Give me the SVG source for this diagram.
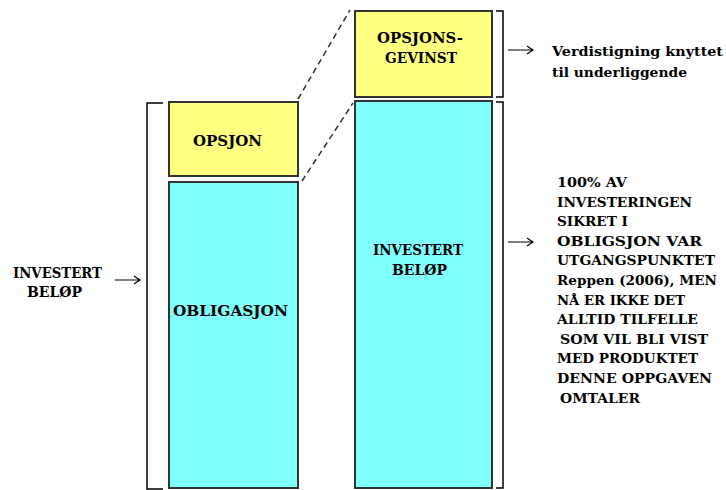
<svg xmlns="http://www.w3.org/2000/svg" width="726" height="490" viewBox="0 0 726 490">
<style>
.t{font-family:'DejaVu Serif','Liberation Serif',serif;font-weight:bold;font-size:14px;fill:#000}
.s{font-size:13px}
.y{fill:#ffff80;stroke:#333;stroke-width:2}
.c{fill:#80ffff;stroke:#333;stroke-width:2}
.br{fill:none;stroke:#000;stroke-width:1.5}
.ar{fill:none;stroke:#000;stroke-width:1.2}
.dash{fill:none;stroke:#333;stroke-width:1.5;stroke-dasharray:6,4}
</style>
<rect width="726" height="490" fill="#fff"/>
<g id="opsjon"><rect class="y" x="169" y="102" width="129" height="74"/><text class="t" x="193" y="146" textLength="69" lengthAdjust="spacingAndGlyphs">OPSJON</text></g>
<g id="obligasjon"><rect class="c" x="169" y="182" width="129" height="306"/><text class="t" x="173" y="316" textLength="115" lengthAdjust="spacingAndGlyphs">OBLIGASJON</text></g>
<g id="opsjonsgevinst"><rect class="y" x="355" y="11" width="137" height="86"/><text class="t" x="377" y="43" textLength="86" lengthAdjust="spacingAndGlyphs">OPSJONS-</text><text class="t" x="385" y="63" textLength="72" lengthAdjust="spacingAndGlyphs">GEVINST</text></g>
<g id="investert-belop"><rect class="c" x="355" y="101" width="137" height="387"/><text class="t" x="373" y="255" textLength="90" lengthAdjust="spacingAndGlyphs">INVESTERT</text><text class="t" x="392" y="275" textLength="55" lengthAdjust="spacingAndGlyphs">BELØP</text></g>
<g id="left-label"><text class="t" x="13" y="278" textLength="89" lengthAdjust="spacingAndGlyphs">INVESTERT</text><text class="t" x="27" y="297" textLength="55" lengthAdjust="spacingAndGlyphs">BELØP</text></g>
<g id="right-label-top"><text class="t s" x="552" y="56" textLength="171" lengthAdjust="spacingAndGlyphs">Verdistigning knyttet</text><text class="t s" x="552" y="77" textLength="135" lengthAdjust="spacingAndGlyphs">til underliggende</text></g>
<g id="right-label-bottom" class="t s">
<text class="t s" x="557" y="187" textLength="70" lengthAdjust="spacingAndGlyphs">100% AV</text>
<text class="t s" x="557" y="207" textLength="135" lengthAdjust="spacingAndGlyphs">INVESTERINGEN</text>
<text class="t s" x="557" y="226" textLength="71" lengthAdjust="spacingAndGlyphs">SIKRET I</text>
<text class="t s" x="557" y="246" textLength="145" lengthAdjust="spacingAndGlyphs">OBLIGSJON VAR</text>
<text class="t s" x="557" y="265" textLength="158" lengthAdjust="spacingAndGlyphs">UTGANGSPUNKTET</text>
<text class="t" x="557" y="285" font-size="12.5" style="font-size:12.5px" textLength="160" lengthAdjust="spacingAndGlyphs">Reppen (2006), MEN</text>
<text class="t s" x="557" y="305" textLength="128" lengthAdjust="spacingAndGlyphs">NÅ ER IKKE DET</text>
<text class="t s" x="557" y="324" textLength="141" lengthAdjust="spacingAndGlyphs">ALLTID TILFELLE</text>
<text class="t s" x="560" y="344" textLength="148" lengthAdjust="spacingAndGlyphs">SOM VIL BLI VIST</text>
<text class="t s" x="557" y="363" textLength="141" lengthAdjust="spacingAndGlyphs">MED PRODUKTET</text>
<text class="t s" x="557" y="383" textLength="155" lengthAdjust="spacingAndGlyphs">DENNE OPPGAVEN</text>
<text class="t s" x="560" y="403" textLength="80" lengthAdjust="spacingAndGlyphs">OMTALER</text>
</g>
<g id="connectors">
<path class="br" d="M163,103 H147 V489 H163"/>
<path class="br" d="M496,11 H503 V97 H496"/>
<path class="br" d="M496,102 H503 V488 H496"/>
<path class="dash" d="M298,99 L350,10"/>
<path class="dash" d="M302,181 L353,103"/>
<path class="ar" d="M115,280 H140 M134,276 L140,280 L134,284"/>
<path class="ar" d="M508,50 H533 M527,46 L533,50 L527,54"/>
<path class="ar" d="M508,242 H533 M527,238 L533,242 L527,246"/>
</g>
</svg>
